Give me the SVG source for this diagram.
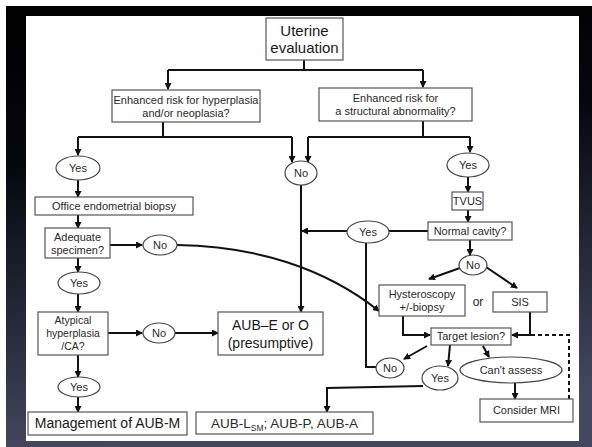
<svg xmlns="http://www.w3.org/2000/svg" width="592" height="447" viewBox="0 0 592 447">
<defs>
<linearGradient id="bg" x1="0" y1="0" x2="0.15" y2="1">
<stop offset="0" stop-color="#000000"/>
<stop offset="0.35" stop-color="#06060e"/>
<stop offset="1" stop-color="#44475f"/>
</linearGradient>
<marker id="ah" markerWidth="7" markerHeight="7" refX="6" refY="3.5" orient="auto" markerUnits="userSpaceOnUse">
<path d="M0,0 L7,3.5 L0,7 z" fill="#111"/>
</marker>
<style>
.box{fill:#fff;stroke:#555;stroke-width:1.2}
.ell{fill:#fff;stroke:#444;stroke-width:1.2}
.t{font-family:"Liberation Sans",Arial,sans-serif;font-size:11px;fill:#2a2a2a;text-anchor:middle}
.tb{font-family:"Liberation Sans",Arial,sans-serif;font-size:14px;fill:#1a1a1a;text-anchor:middle}
.c{fill:none;stroke:#111;stroke-width:2}
.a{marker-end:url(#ah)}
.d{stroke-dasharray:4 3}
</style>
</defs>
<rect x="0" y="0" width="592" height="447" fill="#fff"/>
<rect x="6" y="6" width="586" height="441" fill="url(#bg)"/>
<rect x="26" y="16" width="553" height="425" fill="#fff"/>

<g id="connectors">
<path class="c" d="M304,60 V70 M168,70 H423"/>
<path class="c a" d="M168,70 V89"/>
<path class="c a" d="M423,70 V87"/>
<path class="c" d="M163,122 V137 M78,137 H292"/>
<path class="c a" d="M78,137 V155"/>
<path class="c a" d="M292,137 V162"/>
<path class="c" d="M423,121 V137 M308,137 H470"/>
<path class="c a" d="M308,137 V162"/>
<path class="c a" d="M470,137 V152"/>
<path class="c a" d="M78,180 V197"/>
<path class="c a" d="M78,215 V228"/>
<path class="c a" d="M110,245 H142"/>
<path class="c a" d="M78,258 V272"/>
<path class="c a" d="M78,294 V312"/>
<path class="c a" d="M108,333 H142"/>
<path class="c a" d="M175,333 H218"/>
<path class="c a" d="M78,355 V377"/>
<path class="c a" d="M78,397 V412"/>
<path class="c a" d="M301,185 V312"/>
<path class="c a" d="M177,245 C255,246 325,268 379,311"/>
<path class="c a" d="M468,177 V192"/>
<path class="c a" d="M468,210 V222"/>
<path class="c" d="M428,231 H389"/>
<path class="c a" d="M347,231 H302"/>
<path class="c" d="M366,242 V367 H376"/>
<path class="c a" d="M470,240 V255"/>
<path class="c a" d="M460,268 L429,279"/>
<path class="c a" d="M486,267 L517,288"/>
<path class="c a" d="M403,316 V335 H430"/>
<path class="c a" d="M530,312 V335 H512"/>
<path class="c d" d="M531,335 H569 V399"/>
<path class="c a" d="M427,346 L404,359"/>
<path class="c a" d="M450,345 L448,366"/>
<path class="c a" d="M483,346 L489,357"/>
<path class="c a" d="M515,383 V399"/>
<path class="c a" d="M423,386 L327,388 V412"/>
</g>

<g id="uterine"><rect class="box" x="266" y="18" width="77" height="42"/><text class="tb" x="304.5" y="36" style="font-size:15px">Uterine</text><text class="tb" x="304.5" y="53" style="font-size:15px">evaluation</text></g>
<g id="risk-hyper"><rect class="box" x="112" y="90" width="148" height="32"/><text class="t" x="186" y="104">Enhanced risk for hyperplasia</text><text class="t" x="186" y="117">and/or neoplasia?</text></g>
<g id="risk-struct"><rect class="box" x="319" y="88" width="153" height="33"/><text class="t" x="395.5" y="102">Enhanced risk for</text><text class="t" x="395.5" y="115">a structural abnormality?</text></g>
<g id="yes1"><ellipse class="ell" cx="78" cy="168" rx="22" ry="12"/><text class="t" x="78" y="172">Yes</text></g>
<g id="no-top"><ellipse class="ell" cx="301" cy="173" rx="16" ry="12"/><text class="t" x="301" y="177">No</text></g>
<g id="yes-right"><ellipse class="ell" cx="468" cy="165" rx="21" ry="12"/><text class="t" x="468" y="169">Yes</text></g>
<g id="office"><rect class="box" x="35" y="197" width="158" height="18"/><text class="t" x="114" y="210">Office endometrial biopsy</text></g>
<g id="adequate"><rect class="box" x="45" y="228" width="65" height="30"/><text class="t" x="77.5" y="241">Adequate</text><text class="t" x="77.5" y="254">specimen?</text></g>
<g id="no-adequate"><ellipse class="ell" cx="160" cy="245" rx="17" ry="10"/><text class="t" x="160" y="249">No</text></g>
<g id="yes2"><ellipse class="ell" cx="79" cy="283" rx="21" ry="11"/><text class="t" x="79" y="287">Yes</text></g>
<g id="atypical"><rect class="box" x="38" y="312" width="70" height="43"/><text class="t" x="73" y="324" style="font-size:10.5px">Atypical</text><text class="t" x="73" y="337" style="font-size:10.5px">hyperplasia</text><text class="t" x="73" y="350" style="font-size:10.5px">/CA?</text></g>
<g id="no-atyp"><ellipse class="ell" cx="159" cy="333" rx="16" ry="10"/><text class="t" x="159" y="337">No</text></g>
<g id="aub-eo"><rect class="box" x="218" y="312" width="105" height="43"/><text class="tb" x="270.5" y="330">AUB–E or O</text><text class="tb" x="270.5" y="348">(presumptive)</text></g>
<g id="yes3"><ellipse class="ell" cx="79" cy="387" rx="21" ry="10"/><text class="t" x="79" y="391">Yes</text></g>
<g id="mgmt"><rect class="box" x="28" y="412" width="159" height="23"/><text class="tb" x="107.5" y="428">Management of AUB-M</text></g>
<g id="aub-l"><rect class="box" x="196" y="412" width="177" height="22"/><text class="t" x="284.5" y="427.5" style="font-size:13.5px">AUB-L<tspan style="font-size:8.5px" dy="3">SM</tspan><tspan dy="-3">; AUB-P, AUB-A</tspan></text></g>
<g id="tvus"><rect class="box" x="452" y="192" width="31" height="18"/><text class="t" x="467.5" y="205">TVUS</text></g>
<g id="normal"><rect class="box" x="428" y="222" width="84" height="18"/><text class="t" x="470" y="235">Normal cavity?</text></g>
<g id="yes-mid"><ellipse class="ell" cx="368" cy="232" rx="21" ry="11"/><text class="t" x="368" y="236">Yes</text></g>
<g id="no-right"><ellipse class="ell" cx="473" cy="265" rx="14" ry="10"/><text class="t" x="473" y="269">No</text></g>
<g id="hyst"><rect class="box" x="379" y="285" width="86" height="31"/><text class="t" x="422" y="298">Hysteroscopy</text><text class="t" x="422" y="311">+/-biopsy</text></g>
<g id="or"><text class="t" x="478" y="306" style="font-size:12px">or</text></g>
<g id="sis"><rect class="box" x="493" y="292" width="54" height="20"/><text class="t" x="520" y="306">SIS</text></g>
<g id="target"><rect class="box" x="431" y="328" width="80" height="17"/><text class="t" x="471" y="340">Target lesion?</text></g>
<g id="no-lower"><ellipse class="ell" cx="390" cy="368" rx="14" ry="10"/><text class="t" x="390" y="372">No</text></g>
<g id="yes-lower"><ellipse class="ell" cx="440" cy="378" rx="18" ry="12"/><text class="t" x="440" y="382">Yes</text></g>
<g id="cant"><ellipse class="ell" cx="511" cy="370" rx="51" ry="13"/><text class="t" x="511" y="374">Can't assess</text></g>
<g id="mri"><rect class="box" x="480" y="399" width="93" height="23"/><text class="t" x="526.5" y="414">Consider MRI</text></g>
</svg>
